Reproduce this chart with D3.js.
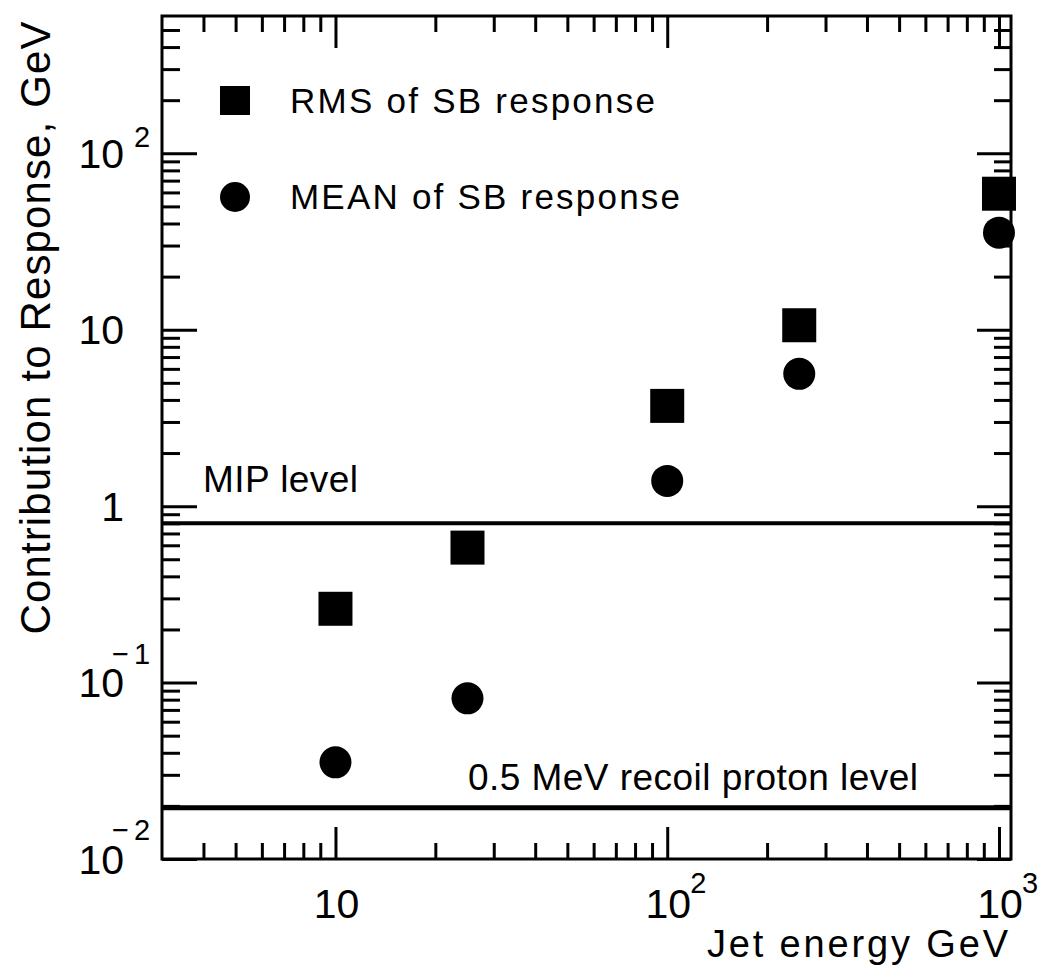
<!DOCTYPE html>
<html>
<head>
<meta charset="utf-8">
<script src="https://cdn.jsdelivr.net/npm/d3@7"></script>
<style>
  body { margin: 0; background: #fff; }
  text { font-family: "Liberation Sans", Arial, sans-serif; fill: #000; }
</style>
</head>
<body>
<svg id="chart" width="1048" height="969"></svg>
<script>
// data
var energies = [10, 25, 100, 250, 1000];            // jet energy, GeV
var rmsValues = [0.262, 0.582, 3.70, 10.6, 59.0];    // RMS of SB response
var meanValues = [0.0353, 0.0814, 1.39, 5.62, 35.5]; // MEAN of SB response
var levelValues = [0.8, 0.0195];
var levelLabels = ["MIP level", "0.5 MeV recoil proton level"];
var legendLabels = ["RMS of SB response", "MEAN of SB response"];

var xTickValues = [10, 100, 1000];
var xTickBase = ["10", "10", "10"];
var xTickExp = ["", "2", "3"];
var yTickValues = [0.01, 0.1, 1, 10, 100];
var yTickBase = ["10", "10", "1", "10", "10"];
var yTickExp = ["\u22122", "\u22121", "", "", "2"];

var xTitle = "Jet energy GeV";
var yTitle = "Contribution to Response, GeV";

window.onload = function(){
    drawChart();
};

function drawChart() {
    var svg = d3.select("#chart");
    var left = 162, right = 1011, top = 16, bottom = 859;

    var x = d3.scaleLog().domain([3, 1087]).range([left, right]);
    var y = d3.scaleLog().domain([0.01, 600]).range([bottom, top]);

    // minor tick positions
    var xMinor = [];
    [1, 10, 100].forEach(function(k){
        for (var m = 2; m <= 9; m++) {
            var v = m * k;
            if (v > 3 && v < 1087) xMinor.push(v);
        }
    });
    var yMinor = [];
    [0.01, 0.1, 1, 10, 100].forEach(function(k){
        for (var m = 2; m <= 9; m++) {
            var v = +(m * k).toPrecision(3);
            if (v < 600) yMinor.push(v);
        }
    });

    function tickAxis(axis, vals, size, tx, ty) {
        var g = svg.append("g")
            .attr("transform", "translate(" + tx + "," + ty + ")")
            .call(axis.tickValues(vals).tickSizeInner(-size).tickSizeOuter(0).tickFormat(""));
        g.select(".domain").remove();
        g.selectAll("line").attr("stroke", "#000").attr("stroke-width", 3);
    }

    // ticks on all four sides, pointing inward
    tickAxis(d3.axisBottom(x), xTickValues, 32, 0, bottom);
    tickAxis(d3.axisBottom(x), xMinor, 16, 0, bottom);
    tickAxis(d3.axisTop(x), xTickValues, 32, 0, top);
    tickAxis(d3.axisTop(x), xMinor, 16, 0, top);
    tickAxis(d3.axisLeft(y), yTickValues, 35, left, 0);
    tickAxis(d3.axisLeft(y), yMinor, 18, left, 0);
    tickAxis(d3.axisRight(y), yTickValues, 34, right, 0);
    tickAxis(d3.axisRight(y), yMinor, 17, right, 0);

    // frame
    svg.append("rect")
        .attr("x", left).attr("y", top)
        .attr("width", right - left).attr("height", bottom - top)
        .attr("fill", "none").attr("stroke", "#000").attr("stroke-width", 3);

    // reference levels
    svg.selectAll(".level")
        .data(levelValues)
        .enter()
        .append("line")
        .attr("class", "level")
        .attr("x1", left).attr("x2", right)
        .attr("y1", function(d){ return y(d); })
        .attr("y2", function(d){ return y(d); })
        .attr("stroke", "#000")
        .attr("stroke-width", function(d, i){ return i === 0 ? 4 : 5; });

    svg.append("text")
        .attr("x", 203).attr("y", y(levelValues[0]) - 31)
        .attr("font-size", 37).attr("textLength", 155).attr("lengthAdjust", "spacing")
        .text(levelLabels[0]);
    svg.append("text")
        .attr("x", 468).attr("y", y(levelValues[1]) - 18)
        .attr("font-size", 37).attr("textLength", 450).attr("lengthAdjust", "spacing")
        .text(levelLabels[1]);

    // x tick labels
    xTickValues.forEach(function(v, i){
        svg.append("text")
            .attr("x", x(v) + 1).attr("y", 918)
            .attr("text-anchor", "middle")
            .attr("font-size", 41)
            .text(xTickBase[i]);
        if (xTickExp[i] !== "") {
            svg.append("text")
                .attr("x", x(v) + 23).attr("y", 893)
                .attr("font-size", 29)
                .text(xTickExp[i]);
        }
    });

    // y tick labels
    yTickValues.forEach(function(v, i){
        svg.append("text")
            .attr("x", 124).attr("y", y(v) + 14.5)
            .attr("text-anchor", "end")
            .attr("font-size", 41)
            .text(yTickBase[i]);
        var e = yTickExp[i];
        if (e !== "") {
            var neg = e.charAt(0) === "\u2212";
            svg.append("text")
                .attr("x", neg ? 112 : 134)
                .attr("y", y(v) - (neg ? 19 : 6))
                .attr("font-size", 29)
                .attr("letter-spacing", neg ? 5 : 0)
                .text(e);
        }
    });

    // axis titles
    svg.append("text")
        .attr("x", 707).attr("y", 957)
        .attr("font-size", 38).attr("textLength", 301).attr("lengthAdjust", "spacing")
        .text(xTitle);
    svg.append("text")
        .attr("transform", "translate(50,328) rotate(-90)")
        .attr("text-anchor", "middle")
        .attr("font-size", 42).attr("textLength", 613).attr("lengthAdjust", "spacing")
        .text(yTitle);

    // data points
    var sq = 34;
    svg.selectAll(".rms")
        .data(energies)
        .enter()
        .append("rect")
        .attr("class", "rms")
        .attr("x", function(d){ return x(d) - sq / 2; })
        .attr("y", function(d, i){ return y(rmsValues[i]) - sq / 2; })
        .attr("width", sq).attr("height", sq)
        .attr("fill", "#000");

    svg.selectAll(".mean")
        .data(energies)
        .enter()
        .append("circle")
        .attr("class", "mean")
        .attr("cx", function(d){ return x(d); })
        .attr("cy", function(d, i){ return y(meanValues[i]); })
        .attr("r", 16)
        .attr("fill", "#000");

    // legend
    svg.append("rect")
        .attr("x", 220).attr("y", 86).attr("width", 30).attr("height", 29)
        .attr("fill", "#000");
    svg.append("text")
        .attr("x", 290).attr("y", 113)
        .attr("font-size", 35).attr("textLength", 365).attr("lengthAdjust", "spacing")
        .text(legendLabels[0]);
    svg.append("circle")
        .attr("cx", 235).attr("cy", 197).attr("r", 15)
        .attr("fill", "#000");
    svg.append("text")
        .attr("x", 290).attr("y", 209)
        .attr("font-size", 35).attr("textLength", 390).attr("lengthAdjust", "spacing")
        .text(legendLabels[1]);
}
</script>
</body>
</html>
